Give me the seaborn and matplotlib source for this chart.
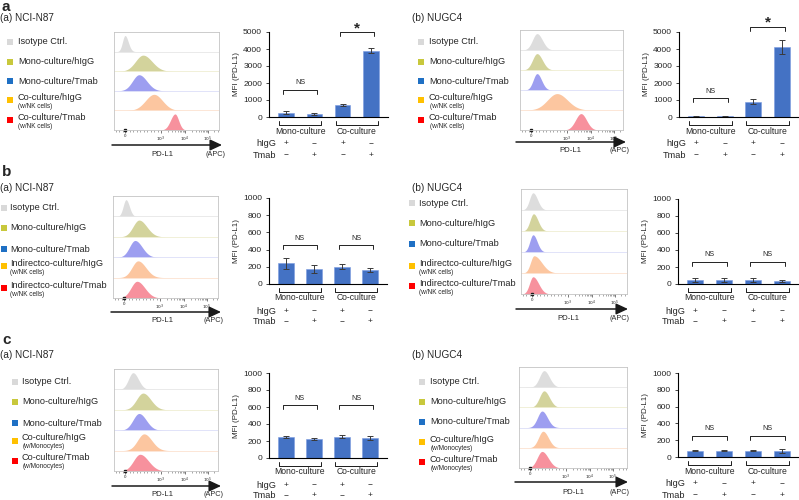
import numpy as np
import pandas as pd
import matplotlib
matplotlib.use("Agg")
import matplotlib.pyplot as plt
import matplotlib.transforms as mtransforms
import seaborn as sns

# ---------------- data ----------------
bar_conditions = ["Mono/hIgG", "Mono/Tmab", "Co/hIgG", "Co/Tmab"]
sign_hIgG = ["+", "\u2212", "+", "\u2212"]
sign_tmab = ["\u2212", "+", "\u2212", "+"]
group_names = ["Mono-culture", "Co-culture"]

legend_a = ["Isotype Ctrl.", "Mono-culture/hIgG", "Mono-culture/Tmab", "Co-culture/hIgG", "Co-culture/Tmab"]
legend_b = ["Isotype Ctrl.", "Mono-culture/hIgG", "Mono-culture/Tmab", "Indirectco-culture/hIgG", "Indirectco-culture/Tmab"]
legend_c = ["Isotype Ctrl.", "Mono-culture/hIgG", "Mono-culture/Tmab", "Co-culture/hIgG", "Co-culture/Tmab"]
sub_nk = ["", "", "", "(w/NK cells)", "(w/NK cells)"]
sub_mono = ["", "", "", "(w/Monocytes)", "(w/Monocytes)"]

mfi_a_n87 = [260, 180, 700, 3900]
err_a_n87 = [90, 40, 80, 150]
mfi_a_nugc4 = [50, 50, 900, 4100]
err_a_nugc4 = [30, 30, 160, 410]
mfi_b_n87 = [240, 175, 200, 165]
err_b_n87 = [62, 45, 31, 25]
mfi_b_nugc4 = [47, 47, 47, 35]
err_b_nugc4 = [28, 28, 25, 10]
mfi_c_n87 = [250, 224, 250, 239]
err_c_n87 = [10, 10, 20, 25]
mfi_c_nugc4 = [75, 75, 75, 75]
err_c_nugc4 = [6, 5, 6, 22]

sig_a = ["NS", "*"]
sig_b = ["NS", "NS"]
sig_c = ["NS", "NS"]

# flow histograms: peak position on display axis, spread, right-tail factor
peak_a_n87 = [11, 29, 25, 40, 61]
sd_a_n87 = [2.5, 7.5, 6.5, 8.5, 4.5]
tail_a_n87 = [1.3, 1.2, 1.2, 1.0, 0.8]
peak_a_nugc4 = [17, 17, 17, 37, 61]
sd_a_nugc4 = [4.5, 4.5, 3.8, 9.5, 5.5]
tail_a_nugc4 = [1.2, 1.2, 1.2, 1.1, 1.0]
peak_b_n87 = [13, 26, 22, 25, 24]
sd_b_n87 = [2.8, 6.0, 5.5, 6.0, 6.0]
tail_b_n87 = [1.2, 1.3, 1.3, 1.3, 1.3]
peak_b_nugc4 = [12, 12.5, 12, 13, 12]
sd_b_nugc4 = [3.5, 3.5, 3.2, 3.5, 3.5]
tail_b_nugc4 = [1.3, 1.3, 1.3, 2.2, 1.6]
peak_c_n87 = [19, 29, 25, 30, 26]
sd_c_n87 = [4.5, 6.5, 6.0, 6.5, 6.5]
tail_c_n87 = [1.2, 1.2, 1.2, 1.2, 1.3]
peak_c_nugc4 = [25, 25, 23, 24, 23]
sd_c_nugc4 = [4.5, 4.5, 4.5, 4.5, 4.8]
tail_c_nugc4 = [1.2, 1.2, 1.2, 1.2, 1.3]

hist_tick_labels = ["0", "$10^3$", "$10^4$", "$10^5$"]
hist_tick_pos = [11, 47, 71, 94]

# ---------------- style ----------------
sns.set_theme(style="ticks")
plt.rcParams["font.family"] = ["Liberation Sans", "DejaVu Sans"]
plt.rcParams["mathtext.fontset"] = "dejavusans"

W, H = 799, 500
fig = plt.figure(figsize=(W / 100, H / 100), dpi=100)
PIX = mtransforms.Affine2D().scale(1 / W, -1 / H).translate(0, 1) + fig.transFigure

BAR_C = "#4472c4"
HIST_FILL = ["#dddddd", "#d3d39c", "#9d9ef0", "#fcc6a0", "#f7919d"]
SEP_C = ["#e6e6e6", "#efeed2", "#dcdef8", "#fce2d0"]
SQ_C = ["#d9d9d9", "#c8c83c", "#1f70c4", "#ffc000", "#ff0000"]


def rect(x0, y0, x1, y1):
    return [x0 / W, 1 - y1 / H, (x1 - x0) / W, (y1 - y0) / H]


def ftext(x, y, s, **kw):
    kw.setdefault("va", "center")
    fig.text(x / W, 1 - y / H, s, **kw)


def legend(L, labels, subs):
    ftext(L["title"][0], L["title"][1], L["title"][2], fontsize=7.2)
    for i, lab in enumerate(labels):
        y = L["leg_y"][i]
        sy = y + 2.5 if subs[i] else y
        ax_sq = fig.add_axes(rect(L["sq_x"], sy - 3, L["sq_x"] + 6, sy + 3))
        ax_sq.set_facecolor(SQ_C[i])
        ax_sq.set_xticks([]); ax_sq.set_yticks([])
        for s in ax_sq.spines.values():
            s.set_visible(False)
        ftext(L["txt_x"], y, lab, fontsize=6.6)
        if subs[i]:
            ftext(L["txt_x"] + 0.5, y + 9, subs[i], fontsize=4.7)


def hist_panel(L, peaks, sds, tails):
    x0, y0, x1, y1 = L["box"]
    ax = fig.add_axes(rect(x0, y0, x1, y1))
    wbox = x1 - x0
    xs = np.linspace(0, wbox, 600)
    for i in range(5):
        base = 4 - i
        sd = np.where(xs < peaks[i], sds[i], sds[i] * tails[i])
        yv = 0.82 * np.exp(-0.5 * ((xs - peaks[i]) / sd) ** 2)
        ax.fill_between(xs, base, base + yv, color=HIST_FILL[i], lw=0)
    for k, yy in enumerate([4, 3, 2, 1]):
        ax.axhline(yy, color=SEP_C[k], lw=0.6)
    ax.set_xlim(0, wbox)
    ax.set_ylim(0, 5)
    ax.set_yticks([])
    ax.set_xticks(hist_tick_pos)
    ax.set_xticklabels(hist_tick_labels, fontsize=3.2)
    minor = list(np.arange(-9, 44, 3.5))
    decs = hist_tick_pos[1:] + [hist_tick_pos[-1] + 21]
    for a, b in zip(decs[:-1], decs[1:]):
        minor += [a + (b - a) * np.log10(k) for k in range(2, 10)]
    ax.set_xticks([m for m in minor if 0 < m < wbox], minor=True)
    ax.tick_params(axis="x", which="major", length=2.2, width=0.5, pad=1, color="#444444")
    ax.tick_params(axis="x", which="minor", length=1.2, width=0.4, color="#666666")
    for s in ax.spines.values():
        s.set_color("#c4c4c4")
        s.set_linewidth(0.6)
    ax.plot([hist_tick_pos[0]], [0], "s", ms=2, color="k", clip_on=False)
    a0, a1, ay = L["arrow"]
    ax.annotate("", xy=(a1, ay), xytext=(a0, ay), xycoords=PIX, textcoords=PIX,
                arrowprops=dict(arrowstyle="-|>,head_length=0.6,head_width=0.28",
                                color="k", lw=1.1, shrinkA=0, shrinkB=0),
                annotation_clip=False)
    ftext(L["pdl1"][0], L["pdl1"][1], "PD-L1", fontsize=5.6, ha="center")
    ftext(L["apc"][0], L["apc"][1], "(APC)", fontsize=5.2, ha="center")


def bar_panel(L, vals, errs, sigs):
    x0, yt, x1, yb = L["bar"]
    ax = fig.add_axes(rect(x0, yt, x1, yb))
    df = pd.DataFrame({"condition": bar_conditions, "MFI": vals})
    sns.barplot(data=df, x="condition", y="MFI", color=BAR_C, saturation=1,
                width=0.55, errorbar=None, ax=ax, edgecolor="#7a9be0", linewidth=0.4)
    xpos = np.arange(len(vals))
    ax.errorbar(xpos, vals, yerr=errs, fmt="none", ecolor="#3a3a3a",
                elinewidth=0.7, capsize=2.2, capthick=0.7)
    ax.set_xlim(-0.6, 3.6)
    ax.set_ylim(0, L["ymax"])
    ax.set_yticks(np.arange(0, L["ymax"] + 1, L["ystep"]))
    ax.tick_params(axis="y", labelsize=6.0, length=2, width=0.6, pad=3)
    ax.set_xticks([])
    ax.set_xlabel("")
    ax.set_ylabel("MFI (PD-L1)", fontsize=5.8, labelpad=2.5)
    for s in ["top", "right"]:
        ax.spines[s].set_visible(False)
    for s in ["left", "bottom"]:
        ax.spines[s].set_linewidth(0.8)
        ax.spines[s].set_color("black")
    bl = mtransforms.blended_transform_factory(ax.transData, PIX)
    pairs = [(0, 1), (2, 3)]
    for g, (a, b) in enumerate(pairs):
        xa, xb = a - 0.25, b + 0.25
        ax.plot([xa, xa, xb, xb], [yb + 4, yb + 8, yb + 8, yb + 4], transform=bl,
                color="k", lw=0.7, clip_on=False)
        ax.text((a + b) / 2, yb + 14, group_names[g], transform=bl, ha="center",
                va="center", fontsize=6.2)
    for i in range(4):
        ax.text(i, yb + 27, sign_hIgG[i], transform=bl, ha="center", va="center", fontsize=6)
        ax.text(i, yb + 38, sign_tmab[i], transform=bl, ha="center", va="center", fontsize=6)
    ax.text(-0.35, yb + 27, "hIgG", transform=bl, ha="right", va="center", fontsize=6.6)
    ax.text(-0.35, yb + 38, "Tmab", transform=bl, ha="right", va="center", fontsize=6.6)
    for g, (a, b) in enumerate(pairs):
        ypx = H - ax.transData.transform((0, L["sig_y"][g]))[1]
        xc = (a + b) / 2
        xa, xb = xc - 0.6, xc + 0.6
        ax.plot([xa, xa, xb, xb], [ypx + 4, ypx, ypx, ypx + 4], transform=bl,
                color="#222222", lw=0.7, clip_on=False)
        if sigs[g] == "*":
            ax.text(xc, ypx - 4, "*", transform=bl, ha="center", va="center",
                    fontsize=11, fontweight="bold")
        else:
            ax.text(xc, ypx - 7, sigs[g], transform=bl, ha="center", va="center", fontsize=5.2)


L = {
    "a1": dict(title=(0, 18, "(a) NCI-N87"), sq_x=7, txt_x=18, leg_y=[42, 62, 81, 97, 117],
               box=(114, 32, 219, 130), arrow=(112, 222, 145), pdl1=(162, 155), apc=(215, 155),
               bar=(269, 32, 388, 117), ymax=5000, ystep=1000, sig_y=[1600, 5000]),
    "a2": dict(title=(412, 18, "(b) NUGC4"), sq_x=418, txt_x=429, leg_y=[42, 62, 81, 97, 117],
               box=(520, 30, 623, 130), arrow=(516, 626, 142), pdl1=(570, 150), apc=(619, 150),
               bar=(679, 32, 799, 117), ymax=5000, ystep=1000, sig_y=[1100, 5300]),
    "b1": dict(title=(0, 188, "(a) NCI-N87"), sq_x=1, txt_x=10, leg_y=[208, 228, 249, 263, 285],
               box=(113, 196, 218, 298), arrow=(111, 221, 312), pdl1=(162, 321), apc=(213, 321),
               bar=(269, 198, 387, 284), ymax=1000, ystep=200, sig_y=[450, 450]),
    "b2": dict(title=(412, 188, "(b) NUGC4"), sq_x=409, txt_x=419, leg_y=[203, 223, 244, 263, 283],
               box=(521, 189, 627, 294), arrow=(516, 628, 309), pdl1=(568, 319), apc=(620, 319),
               bar=(678, 199, 799, 284), ymax=1000, ystep=200, sig_y=[260, 260]),
    "c1": dict(title=(0, 355, "(a) NCI-N87"), sq_x=12, txt_x=22, leg_y=[382, 402, 423, 438, 458],
               box=(114, 369, 218, 471), arrow=(112, 221, 486), pdl1=(162, 495), apc=(213, 495),
               bar=(269, 373, 387, 458), ymax=1000, ystep=200, sig_y=[620, 620]),
    "c2": dict(title=(412, 355, "(b) NUGC4"), sq_x=419, txt_x=430, leg_y=[382, 402, 422, 439, 459],
               box=(519, 367, 627, 468), arrow=(515, 628, 482), pdl1=(573, 492), apc=(620, 492),
               bar=(678, 373, 799, 457), ymax=1000, ystep=200, sig_y=[250, 250]),
}

# panel letters
ftext(2, 11, "a", fontsize=11, fontweight="bold", va="baseline")
ftext(2, 176, "b", fontsize=11, fontweight="bold", va="baseline")
ftext(2, 344, "c", fontsize=11, fontweight="bold", va="baseline")

legend(L["a1"], legend_a, sub_nk)
legend(L["a2"], legend_a, sub_nk)
legend(L["b1"], legend_b, sub_nk)
legend(L["b2"], legend_b, sub_nk)
legend(L["c1"], legend_c, sub_mono)
legend(L["c2"], legend_c, sub_mono)

hist_panel(L["a1"], peak_a_n87, sd_a_n87, tail_a_n87)
hist_panel(L["a2"], peak_a_nugc4, sd_a_nugc4, tail_a_nugc4)
hist_panel(L["b1"], peak_b_n87, sd_b_n87, tail_b_n87)
hist_panel(L["b2"], peak_b_nugc4, sd_b_nugc4, tail_b_nugc4)
hist_panel(L["c1"], peak_c_n87, sd_c_n87, tail_c_n87)
hist_panel(L["c2"], peak_c_nugc4, sd_c_nugc4, tail_c_nugc4)

bar_panel(L["a1"], mfi_a_n87, err_a_n87, sig_a)
bar_panel(L["a2"], mfi_a_nugc4, err_a_nugc4, sig_a)
bar_panel(L["b1"], mfi_b_n87, err_b_n87, sig_b)
bar_panel(L["b2"], mfi_b_nugc4, err_b_nugc4, sig_b)
bar_panel(L["c1"], mfi_c_n87, err_c_n87, sig_c)
bar_panel(L["c2"], mfi_c_nugc4, err_c_nugc4, sig_c)

fig.savefig("out.png", dpi=100, facecolor="white")
